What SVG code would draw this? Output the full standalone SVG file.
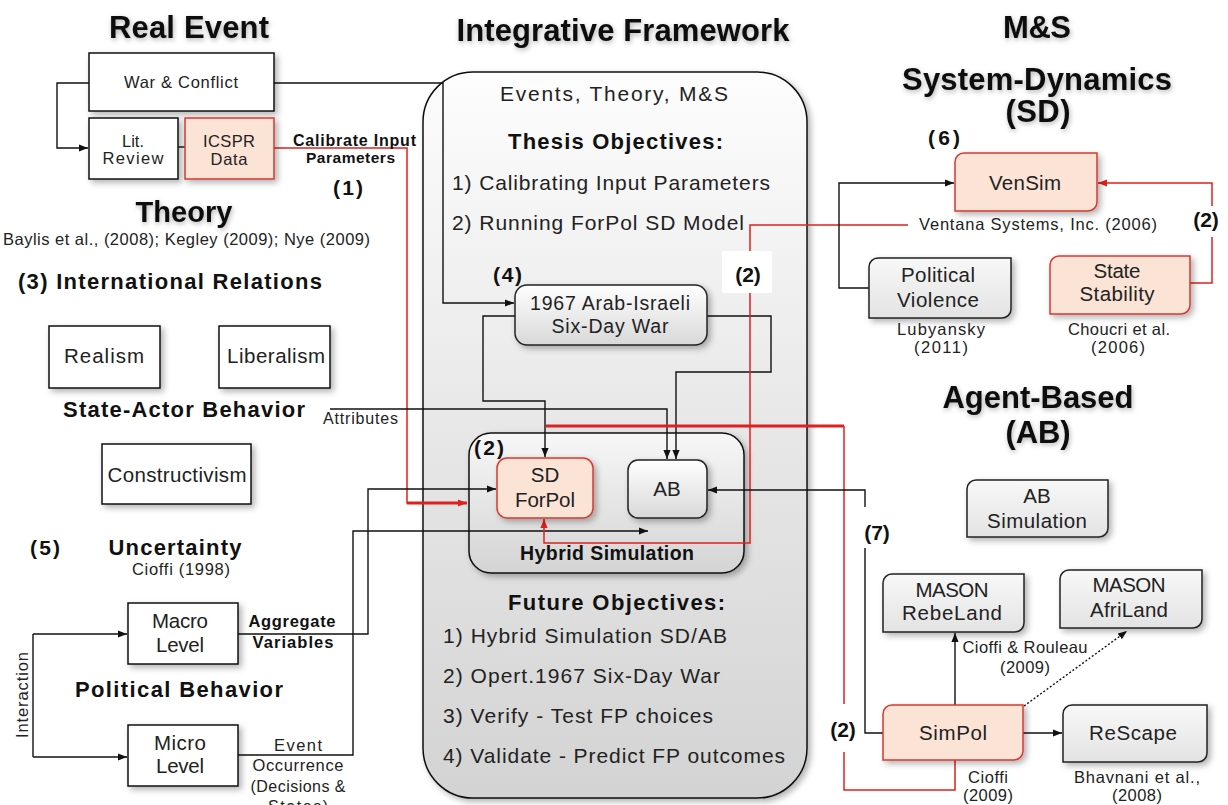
<svg xmlns="http://www.w3.org/2000/svg" width="1228" height="805" viewBox="0 0 1228 805">
<defs>
<style>
text{font-family:"Liberation Sans",Arial,sans-serif;fill:#222}
.b{font-weight:bold;fill:#111}
.ttl{font-size:31px;font-weight:bold;fill:#111;filter:url(#tsh)}
.f16{font-size:16.5px}
.f20{font-size:20.5px}
.f21{font-size:21px}
.f22{font-size:22px}
.m{text-anchor:middle}
.wbox{fill:#fff;stroke:#111;stroke-width:1.5;filter:url(#sh)}
.pbox{fill:#fbe3d6;stroke:#d63a30;stroke-width:1.5;filter:url(#sh)}
.gbox{fill:url(#gg);stroke:#222;stroke-width:1.5;filter:url(#sh)}
.cbox{fill:url(#cg);stroke:#222;stroke-width:1.5;filter:url(#sh)}
.ln{fill:none;stroke:#111;stroke-width:1.4}
.rl{fill:none;stroke:#e0201c;stroke-width:1.5}
.rt{fill:none;stroke:#e0201c;stroke-width:3}
.dot{fill:none;stroke:#111;stroke-width:1.4;stroke-dasharray:2 2}
</style>
<linearGradient id="fg" x1="0" y1="0" x2="0" y2="1">
<stop offset="0" stop-color="#fdfdfd"/><stop offset="0.45" stop-color="#e9e9e9"/><stop offset="1" stop-color="#d3d3d3"/>
</linearGradient>
<linearGradient id="hg" x1="0" y1="0" x2="0" y2="1">
<stop offset="0" stop-color="#f7f7f7"/><stop offset="1" stop-color="#d4d4d4"/>
</linearGradient>
<linearGradient id="cg" x1="0" y1="0" x2="0" y2="1">
<stop offset="0" stop-color="#ffffff"/><stop offset="1" stop-color="#d8d8d8"/>
</linearGradient>
<linearGradient id="gg" x1="0" y1="0" x2="0" y2="1">
<stop offset="0" stop-color="#f8f8f8"/><stop offset="1" stop-color="#e3e3e3"/>
</linearGradient>
<filter id="sh" x="-20%" y="-20%" width="140%" height="150%">
<feDropShadow dx="3" dy="3" stdDeviation="3" flood-color="#000" flood-opacity="0.3"/>
</filter>
<filter id="tsh" x="-10%" y="-30%" width="120%" height="160%">
<feDropShadow dx="1" dy="2" stdDeviation="2.5" flood-color="#000" flood-opacity="0.3"/>
</filter>
<marker id="ab" viewBox="0 0 10 10" refX="10" refY="5" markerWidth="9" markerHeight="9" markerUnits="userSpaceOnUse" orient="auto"><path d="M0,1 L10,5 L0,9 z" fill="#111"/></marker>
<marker id="ar" viewBox="0 0 10 10" refX="10" refY="5" markerWidth="9" markerHeight="9" markerUnits="userSpaceOnUse" orient="auto"><path d="M0,1 L10,5 L0,9 z" fill="#e0201c"/></marker>
</defs>
<rect width="1228" height="805" fill="#fff"/>

<!-- Titles -->
<g id="titles">
<text class="ttl m" x="189" y="38" textLength="160">Real Event</text>
<text class="ttl m" x="623" y="41" textLength="333">Integrative Framework</text>
<text class="ttl m" x="1037" y="38" textLength="68">M&amp;S</text>
<text class="ttl m" x="1037" y="90" textLength="270">System-Dynamics</text>
<text class="ttl m" x="1038" y="122" textLength="65">(SD)</text>
<text class="ttl m" x="184" y="222" textLength="97" style="font-size:29px">Theory</text>
<text class="ttl m" x="1038" y="408" textLength="191">Agent-Based</text>
<text class="ttl m" x="1038" y="443" textLength="65">(AB)</text>
</g>

<!-- Integrative framework container -->
<g id="framework">
<rect x="423" y="72" width="384" height="726" rx="50" fill="url(#fg)" stroke="#111" stroke-width="1.5" filter="url(#sh)"/>
<text class="f21" x="500" y="101" textLength="228">Events, Theory, M&amp;S</text>
<text class="b f22" x="508" y="149" textLength="215">Thesis Objectives:</text>
<text class="f21" x="452" y="190" textLength="318">1) Calibrating Input Parameters</text>
<text class="f21" x="452" y="230" textLength="292">2) Running ForPol SD Model</text>
<text class="b f21" x="493" y="282" textLength="29">(4)</text>
<text class="b f22" x="508" y="610" textLength="217">Future Objectives:</text>
<text class="f21" x="443" y="643" textLength="284">1) Hybrid Simulation SD/AB</text>
<text class="f21" x="443" y="683" textLength="277">2) Opert.1967 Six-Day War</text>
<text class="f21" x="443" y="723" textLength="270">3) Verify - Test FP choices</text>
<text class="f21" x="443" y="763" textLength="342">4) Validate - Predict FP outcomes</text>
</g>

<g id="hybrid">
<rect x="469" y="433" width="275" height="140" rx="22" fill="url(#hg)" stroke="#111" stroke-width="1.5" filter="url(#sh)"/>
<text class="b f21" x="474" y="455" textLength="30">(2)</text>
<text class="b m" x="607" y="560" textLength="174" style="font-size:19.5px">Hybrid Simulation</text>
</g>

<!-- Connectors -->
<g id="connectors">
<path class="ln" d="M89 83 H57 V148 H88" marker-end="url(#ab)"/>
<path class="ln" d="M178 147 H185"/>
<path class="ln" d="M274 83 H443 V303 H514" marker-end="url(#ab)"/>
<path class="rl" d="M274 148 H407 V503 H420"/>
<path class="rt" d="M407 503 H467" marker-end="url(#ar)"/>
<path class="ln" d="M515 316 H483 V401 H545 V457" marker-end="url(#ab)"/>
<path class="ln" d="M707 316 H771 V372 H676 V459" marker-end="url(#ab)"/>
<path class="ln" d="M330 409 H667 V459" marker-end="url(#ab)"/>
<path class="ln" d="M238 634 H368 V489 H496" marker-end="url(#ab)"/>
<path class="ln" d="M238 755 H353 V531 H648" marker-end="url(#ab)"/>
<path class="rl" d="M908 225 H750 V543 H544 V519" marker-end="url(#ar)"/>
<path class="rt" d="M844 426 H546"/>
<path class="rl" d="M955 760 V790 H844 V426"/>
<path class="ln" d="M883 733 H865 V490 H708" marker-end="url(#ab)"/>
<path class="ln" d="M869 288 H839 V183 H954" marker-end="url(#ab)"/>
<path class="rl" d="M1190 283 H1212 V183 H1098" marker-end="url(#ar)"/>
<path class="ln" d="M955 705 V633" marker-end="url(#ab)"/>
<path class="dot" d="M1024 706 L1127 631" marker-end="url(#ab)"/>
<path class="ln" d="M1023 733 H1062" marker-end="url(#ab)"/>
<path class="ln" d="M33 634 V757"/>
<path class="ln" d="M33 634 H127" marker-end="url(#ab)"/>
<path class="ln" d="M33 757 H127" marker-end="url(#ab)"/>
</g>

<!-- Connector labels -->
<g id="labels">
<rect x="722" y="251" width="50" height="42" fill="#fff"/>
<text class="b f21 m" x="748" y="282">(2)</text>
<rect x="1192" y="206" width="34" height="31" fill="#fff"/>
<text class="b f21 m" x="1206" y="227">(2)</text>
<rect x="828" y="704" width="32" height="48" fill="#fff"/>
<text class="b f21 m" x="843" y="737">(2)</text>
<rect x="858" y="507" width="36" height="41" fill="#fff"/>
<text class="b f21 m" x="877" y="540">(7)</text>
<text class="b" x="293" y="146" textLength="123" style="font-size:16px">Calibrate Input</text>
<text class="b" x="306" y="163" textLength="89" style="font-size:15.5px">Parameters</text>
<text class="b f21" x="333" y="195" textLength="30">(1)</text>
<text x="323" y="424" textLength="75" style="font-size:16px">Attributes</text>
<text class="b m f16" x="292" y="627" textLength="87">Aggregate</text>
<text class="b m f16" x="293" y="648" textLength="81">Variables</text>
<text class="f16 m" x="298" y="751" textLength="48">Event</text>
<text class="f16 m" x="298" y="771" textLength="91">Occurrence</text>
<text class="m" x="298" y="792" textLength="95" style="font-size:16px">(Decisions &amp;</text>
<text class="m" x="298" y="812" textLength="60" style="font-size:16px">States)</text>
<text class="f16 m" transform="translate(28,695) rotate(-90)" textLength="86">Interaction</text>
</g>

<!-- Real event nodes -->
<g id="war-conflict"><rect class="wbox" x="89" y="53" width="185" height="58"/>
<text class="f16 m" x="181" y="88" textLength="114">War &amp; Conflict</text></g>
<g id="lit-review"><rect class="wbox" x="89" y="118" width="89" height="61"/>
<text class="f16 m" x="133" y="147">Lit.</text>
<text class="f16 m" x="133" y="164" textLength="61">Review</text></g>
<g id="icspr-data"><rect class="pbox" x="185" y="118" width="89" height="61"/>
<text class="f16 m" x="229" y="147" textLength="52">ICSPR</text>
<text class="f16 m" x="229" y="165" textLength="37">Data</text></g>

<!-- Theory -->
<g id="theory-text">
<text class="f16" x="3" y="245" textLength="367">Baylis et al., (2008); Kegley (2009); Nye (2009)</text>
<text class="b f22" x="18" y="289" textLength="304">(3) International Relations</text>
<text class="b m f22" x="184" y="417" textLength="242">State-Actor Behavior</text>
<text class="b f21" x="30" y="555" textLength="30">(5)</text>
<text class="b m f22" x="175" y="555" textLength="133">Uncertainty</text>
<text class="f16 m" x="181" y="575" textLength="98">Cioffi (1998)</text>
<text class="b m f22" x="179" y="697" textLength="208">Political Behavior</text>
</g>
<g id="realism"><rect class="wbox" x="49" y="326" width="111" height="62"/>
<text class="f20 m" x="104" y="363" textLength="80">Realism</text></g>
<g id="liberalism"><rect class="wbox" x="219" y="326" width="111" height="62"/>
<text class="f20 m" x="276" y="363" textLength="98">Liberalism</text></g>
<g id="constructivism"><rect class="wbox" x="102" y="444" width="149" height="60"/>
<text class="f20 m" x="177" y="482" textLength="139">Constructivism</text></g>
<g id="macro-level"><rect class="wbox" x="128" y="603" width="110" height="61"/>
<text class="f20 m" x="180" y="628" textLength="56">Macro</text>
<text class="f20 m" x="180" y="652" textLength="48">Level</text></g>
<g id="micro-level"><rect class="wbox" x="128" y="725" width="110" height="61"/>
<text class="f20 m" x="180" y="750" textLength="52">Micro</text>
<text class="f20 m" x="180" y="773" textLength="48">Level</text></g>

<!-- Framework nodes -->
<g id="six-day-war"><rect class="cbox" x="515" y="285" width="192" height="60" rx="12"/>
<text class="m" x="610" y="310" textLength="160" style="font-size:19.5px">1967 Arab-Israeli</text>
<text class="m" x="610" y="333" textLength="117" style="font-size:19.5px">Six-Day War</text></g>
<g id="sd-forpol"><rect class="pbox" x="497" y="458" width="96" height="60" rx="10"/>
<text class="f20 m" x="545" y="482">SD</text>
<text class="f20 m" x="545" y="507" textLength="60">ForPol</text></g>
<g id="ab"><rect class="cbox" x="628" y="460" width="79" height="58" rx="10"/>
<text class="f20 m" x="667" y="496">AB</text></g>

<!-- System dynamics -->
<g id="vensim">
<text class="b f21" x="928" y="145" textLength="32">(6)</text>
<path class="pbox" d="M955 162 A9 9 0 0 1 964 153 H1097 V202 A9 9 0 0 1 1088 211 H955 Z"/>
<text class="f20 m" x="1025" y="190" textLength="72">VenSim</text>
<text class="f16" x="919" y="230" textLength="238">Ventana Systems, Inc. (2006)</text></g>
<g id="political-violence">
<path class="gbox" d="M869 267 A9 9 0 0 1 878 258 H1011 V309 A9 9 0 0 1 1002 318 H869 Z"/>
<text class="f20 m" x="938" y="282" textLength="74">Political</text>
<text class="f20 m" x="938" y="307" textLength="82">Violence</text>
<text class="f16 m" x="941" y="335" textLength="88">Lubyansky</text>
<text class="f16 m" x="941" y="353" textLength="54">(2011)</text></g>
<g id="state-stability">
<path class="pbox" d="M1050 265 A9 9 0 0 1 1059 256 H1190 V305 A9 9 0 0 1 1181 314 H1050 Z"/>
<text class="f20 m" x="1117" y="278" textLength="47">State</text>
<text class="f20 m" x="1117" y="301" textLength="75">Stability</text>
<text class="f16 m" x="1119" y="335" textLength="102">Choucri et al.</text>
<text class="f16 m" x="1118" y="353" textLength="54">(2006)</text></g>

<!-- Agent based -->
<g id="ab-simulation">
<path class="gbox" d="M967 489 A9 9 0 0 1 976 480 H1108 V528 A9 9 0 0 1 1099 537 H967 Z"/>
<text class="f20 m" x="1037" y="503">AB</text>
<text class="f20 m" x="1037" y="528" textLength="100">Simulation</text></g>
<g id="mason-rebeland">
<path class="gbox" d="M883 583 A9 9 0 0 1 892 574 H1024 V623 A9 9 0 0 1 1015 632 H883 Z"/>
<text class="f20 m" x="952" y="597" textLength="73">MASON</text>
<text class="f20 m" x="952" y="620" textLength="100">RebeLand</text>
<text class="f16 m" x="1025" y="653" textLength="125">Cioffi &amp; Rouleau</text>
<text class="f16 m" x="1025" y="673" textLength="50">(2009)</text></g>
<g id="mason-afriland">
<path class="gbox" d="M1060 579 A9 9 0 0 1 1069 570 H1202 V619 A9 9 0 0 1 1193 628 H1060 Z"/>
<text class="f20 m" x="1129" y="592" textLength="73">MASON</text>
<text class="f20 m" x="1129" y="617" textLength="78">AfriLand</text></g>
<g id="simpol">
<path class="pbox" d="M883 714 A9 9 0 0 1 892 705 H1023 V751 A9 9 0 0 1 1014 760 H883 Z"/>
<text class="f20 m" x="953" y="740" textLength="68">SimPol</text>
<text class="f16 m" x="988" y="783" textLength="40">Cioffi</text>
<text class="f16 m" x="988" y="801" textLength="50">(2009)</text></g>
<g id="rescape">
<path class="gbox" d="M1063 714 A9 9 0 0 1 1072 705 H1207 V753 A9 9 0 0 1 1198 762 H1063 Z"/>
<text class="f20 m" x="1133" y="740" textLength="88">ReScape</text>
<text class="f16 m" x="1137" y="783" textLength="126">Bhavnani et al.,</text>
<text class="f16 m" x="1137" y="801" textLength="50">(2008)</text></g>
</svg>
